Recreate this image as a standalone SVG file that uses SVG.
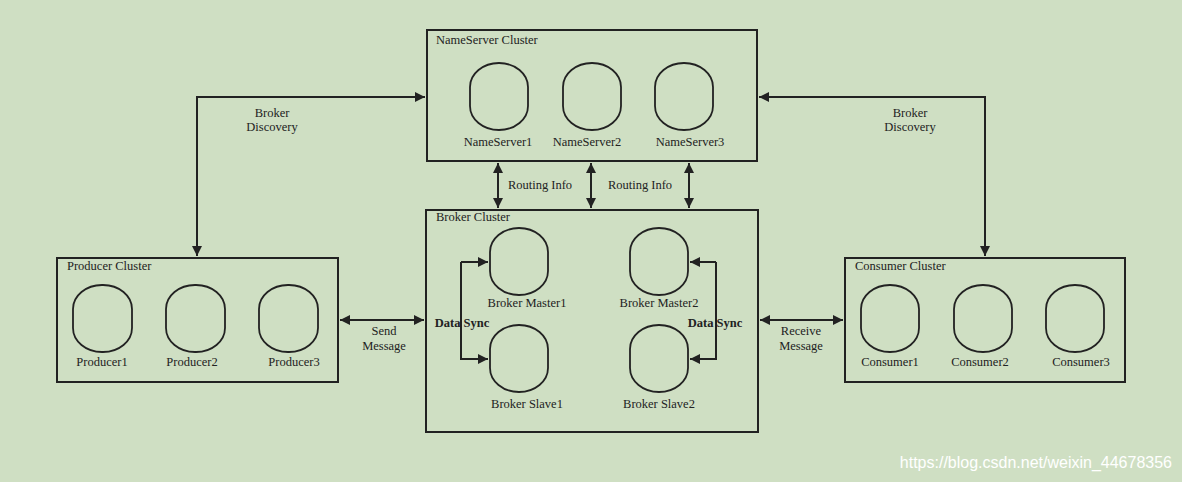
<svg xmlns="http://www.w3.org/2000/svg" width="1182" height="482" viewBox="0 0 1182 482">
<defs>
<marker id="a" viewBox="0 0 10 10" refX="10" refY="5" markerWidth="5" markerHeight="5" orient="auto-start-reverse"><path d="M0,0 L10,5 L0,10 z" fill="#222"/></marker>
<style>
.c{fill:none;stroke:#222;stroke-width:2}
.n{fill:none;stroke:#222;stroke-width:1.8}
.l{stroke:#222;stroke-width:2;fill:none;marker-start:url(#a);marker-end:url(#a)}
.s{stroke:#222;stroke-width:2;fill:none;marker-end:url(#a)}
text{font-family:"Liberation Serif",serif;font-size:12.5px;fill:#222}
.m{text-anchor:middle}
.b{font-weight:bold}
</style>
</defs>
<rect width="1182" height="482" fill="#cfdfc3"/>
<g id="connectors">
<path class="l" d="M197,256 V97 H425"/>
<path class="l" d="M985,256 V97 H759"/>
<path class="l" d="M498,163 V208"/>
<path class="l" d="M591,163 V208"/>
<path class="l" d="M689,163 V208"/>
<path class="l" d="M340,320 H424"/>
<path class="l" d="M760,320 H843"/>
<path class="s" d="M461,262 H488"/><path class="s" d="M461,262 V359 H488"/>
<path class="s" d="M716,262 H690"/><path class="s" d="M716,262 V359 H690"/>
<text class="m" x="272" y="117">Broker</text><text class="m" x="272" y="131">Discovery</text>
<text class="m" x="910" y="117">Broker</text><text class="m" x="910" y="131">Discovery</text>
<text class="m" x="540" y="189">Routing Info</text>
<text class="m" x="640" y="189">Routing Info</text>
<text class="m" x="384" y="335">Send</text><text class="m" x="384" y="350">Message</text>
<text class="m" x="801" y="335">Receive</text><text class="m" x="801" y="350">Message</text>
<text class="m b" x="462" y="327">Data Sync</text>
<text class="m b" x="715" y="327">Data Sync</text>
</g>
<g id="producer-cluster">
<rect class="c" x="57" y="258" width="281" height="124"/>
<text x="67" y="270">Producer Cluster</text>
<rect class="n" x="73" y="285" width="59" height="67" rx="29" ry="24"/>
<rect class="n" x="166" y="285" width="59" height="67" rx="29" ry="24"/>
<rect class="n" x="259" y="285" width="59" height="67" rx="29" ry="24"/>
<text class="m" x="102" y="366">Producer1</text>
<text class="m" x="192" y="366">Producer2</text>
<text class="m" x="294" y="366">Producer3</text>
</g>
<g id="nameserver-cluster">
<rect class="c" x="427" y="30" width="330" height="131"/>
<text x="436" y="44">NameServer Cluster</text>
<rect class="n" x="470" y="63" width="58" height="67" rx="29" ry="24"/>
<rect class="n" x="563" y="63" width="58" height="67" rx="29" ry="24"/>
<rect class="n" x="655" y="63" width="58" height="67" rx="29" ry="24"/>
<text class="m" x="498" y="146">NameServer1</text>
<text class="m" x="587" y="146">NameServer2</text>
<text class="m" x="690" y="146">NameServer3</text>
</g>
<g id="broker-cluster">
<rect class="c" x="426" y="210" width="332" height="222"/>
<text x="436" y="221">Broker Cluster</text>
<rect class="n" x="490" y="228" width="58" height="67" rx="29" ry="24"/>
<rect class="n" x="630" y="228" width="58" height="67" rx="29" ry="24"/>
<rect class="n" x="490" y="325" width="58" height="67" rx="29" ry="24"/>
<rect class="n" x="630" y="325" width="58" height="67" rx="29" ry="24"/>
<text class="m" x="527" y="307">Broker Master1</text>
<text class="m" x="659" y="307">Broker Master2</text>
<text class="m" x="527" y="408">Broker Slave1</text>
<text class="m" x="659" y="408">Broker Slave2</text>
</g>
<g id="consumer-cluster">
<rect class="c" x="845" y="258" width="280" height="124"/>
<text x="855" y="270">Consumer Cluster</text>
<rect class="n" x="861" y="285" width="58" height="67" rx="29" ry="24"/>
<rect class="n" x="954" y="285" width="58" height="67" rx="29" ry="24"/>
<rect class="n" x="1046" y="285" width="58" height="67" rx="29" ry="24"/>
<text class="m" x="890" y="366">Consumer1</text>
<text class="m" x="980" y="366">Consumer2</text>
<text class="m" x="1081" y="366">Consumer3</text>
</g>
<text x="1172" y="468" style="font-family:'Liberation Sans',sans-serif;font-size:16px;fill:#ffffff;text-anchor:end">https://blog.csdn.net/weixin_44678356</text>
</svg>
